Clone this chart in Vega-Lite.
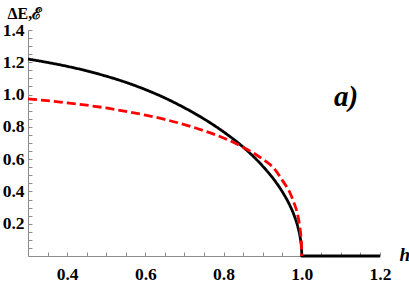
{
  "$schema": "https://vega.github.io/schema/vega-lite/v6.json",
  "width": 352,
  "height": 226,
  "autosize": {"type": "none"},
  "padding": {"left": 28, "top": 30, "right": 29, "bottom": 26},
  "background": "white",
  "config": {
    "view": {"stroke": null},
    "font": "Liberation Serif, Times New Roman, DejaVu Serif, serif",
    "axis": {"grid": false, "domainColor": "#8c8c8c", "tickColor": "#8c8c8c", "labelColor": "black", "labelFont": "Liberation Serif, Times New Roman, DejaVu Serif, serif", "labelFontWeight": "bold", "labelFontSize": 17.5, "titleColor": "black", "labelOverlap": false}
  },
  "datasets": {
    "curves": [
      {"h": 0.30, "v": 1.220, "s": "A"},
      {"h": 0.35, "v": 1.199, "s": "A"},
      {"h": 0.40, "v": 1.175, "s": "A"},
      {"h": 0.45, "v": 1.147, "s": "A"},
      {"h": 0.50, "v": 1.114, "s": "A"},
      {"h": 0.55, "v": 1.076, "s": "A"},
      {"h": 0.60, "v": 1.031, "s": "A"},
      {"h": 0.65, "v": 0.979, "s": "A"},
      {"h": 0.70, "v": 0.918, "s": "A"},
      {"h": 0.75, "v": 0.849, "s": "A"},
      {"h": 0.80, "v": 0.769, "s": "A"},
      {"h": 0.85, "v": 0.675, "s": "A"},
      {"h": 0.90, "v": 0.557, "s": "A"},
      {"h": 0.93, "v": 0.470, "s": "A"},
      {"h": 0.95, "v": 0.399, "s": "A"},
      {"h": 0.97, "v": 0.311, "s": "A"},
      {"h": 0.98, "v": 0.255, "s": "A"},
      {"h": 0.99, "v": 0.180, "s": "A"},
      {"h": 0.995, "v": 0.128, "s": "A"},
      {"h": 0.9975, "v": 0.090, "s": "A"},
      {"h": 0.999, "v": 0.057, "s": "A"},
      {"h": 0.9999, "v": 0.018, "s": "A"},
      {"h": 1.0, "v": 0.0, "s": "A"},
      {"h": 1.1, "v": 0.0, "s": "A"},
      {"h": 1.2, "v": 0.0, "s": "A"},
      {"h": 0.30, "v": 0.973, "s": "B"},
      {"h": 0.35, "v": 0.962, "s": "B"},
      {"h": 0.40, "v": 0.949, "s": "B"},
      {"h": 0.45, "v": 0.934, "s": "B"},
      {"h": 0.50, "v": 0.917, "s": "B"},
      {"h": 0.55, "v": 0.896, "s": "B"},
      {"h": 0.60, "v": 0.873, "s": "B"},
      {"h": 0.65, "v": 0.846, "s": "B"},
      {"h": 0.70, "v": 0.814, "s": "B"},
      {"h": 0.75, "v": 0.776, "s": "B"},
      {"h": 0.80, "v": 0.731, "s": "B"},
      {"h": 0.85, "v": 0.674, "s": "B"},
      {"h": 0.90, "v": 0.600, "s": "B"},
      {"h": 0.93, "v": 0.540, "s": "B"},
      {"h": 0.95, "v": 0.470, "s": "B"},
      {"h": 0.97, "v": 0.390, "s": "B"},
      {"h": 0.98, "v": 0.330, "s": "B"},
      {"h": 0.99, "v": 0.250, "s": "B"},
      {"h": 0.995, "v": 0.180, "s": "B"},
      {"h": 0.9975, "v": 0.130, "s": "B"},
      {"h": 0.999, "v": 0.080, "s": "B"},
      {"h": 1.0, "v": 0.0, "s": "B"}
    ],
    "note": [{"h": 1.113, "v": 0.93, "t": "a)"}]
  },
  "layer": [
    {
      "data": {"name": "curves"},
      "mark": {"type": "line", "interpolate": "monotone", "strokeWidth": 2.8, "clip": false},
      "encoding": {
        "x": {"field": "h", "type": "quantitative", "scale": {"domain": [0.3, 1.2], "nice": false, "zero": false},
          "axis": {"orient": "bottom",
            "values": [0.35, 0.4, 0.45, 0.5, 0.55, 0.6, 0.65, 0.7, 0.75, 0.8, 0.85, 0.9, 0.95, 1.0, 1.05, 1.1, 1.15, 1.2],
            "format": ".1f",
            "labelExpr": "abs(datum.value*5 - round(datum.value*5)) < 0.001 ? datum.label : ''",
            "labelFont": "Liberation Serif, Times New Roman, DejaVu Serif, serif", "labelFontWeight": "bold", "labelFontSize": 17.5, "labelColor": "black",
            "tickSize": -4,
            "labelPadding": 13, "labelFlush": false, "labelOverlap": false,
            "title": "h", "titleFont": "Liberation Serif, Times New Roman, DejaVu Serif, serif", "titleFontWeight": "bold", "titleFontStyle": "italic", "titleFontSize": 19, "titleAngle": 0, "titleAlign": "left", "titleBaseline": "middle", "titleX": 371, "titleY": -2}},
        "y": {"field": "v", "type": "quantitative", "scale": {"domain": [0, 1.4], "nice": false},
          "axis": {"orient": "left",
            "values": [0.05, 0.1, 0.15, 0.2, 0.25, 0.3, 0.35, 0.4, 0.45, 0.5, 0.55, 0.6, 0.65, 0.7, 0.75, 0.8, 0.85, 0.9, 0.95, 1.0, 1.05, 1.1, 1.15, 1.2, 1.25, 1.3, 1.35, 1.4],
            "format": ".1f",
            "labelExpr": "abs(datum.value*5 - round(datum.value*5)) < 0.001 ? datum.label : ''",
            "labelFont": "Liberation Serif, Times New Roman, DejaVu Serif, serif", "labelFontWeight": "bold", "labelFontSize": 17.5, "labelColor": "black",
            "tickSize": -4,
            "labelPadding": 8, "labelOverlap": false,
            "title": "ΔE,ℰ", "titleFont": "Liberation Serif, Times New Roman, DejaVu Serif, serif", "titleFontWeight": "bold", "titleFontSize": 16, "titleAngle": 0, "titleAlign": "left", "titleBaseline": "alphabetic", "titleX": -21, "titleY": -12}},
        "color": {"field": "s", "type": "nominal", "scale": {"domain": ["A", "B"], "range": ["#000000", "#ff0000"]}, "legend": null},
        "strokeDash": {"field": "s", "type": "nominal", "scale": {"domain": ["A", "B"], "range": [[1, 0], [9, 4]]}, "legend": null}
      }
    },
    {
      "data": {"name": "note"},
      "mark": {"type": "text", "font": "Liberation Serif, Times New Roman, DejaVu Serif, serif", "fontWeight": "bold", "fontStyle": "italic", "fontSize": 29, "align": "center", "baseline": "alphabetic"},
      "encoding": {
        "x": {"field": "h", "type": "quantitative", "axis": null},
        "y": {"field": "v", "type": "quantitative", "axis": null},
        "text": {"field": "t"}
      }
    }
  ],
  "resolve": {"axis": {"x": "independent", "y": "independent"}}
}
